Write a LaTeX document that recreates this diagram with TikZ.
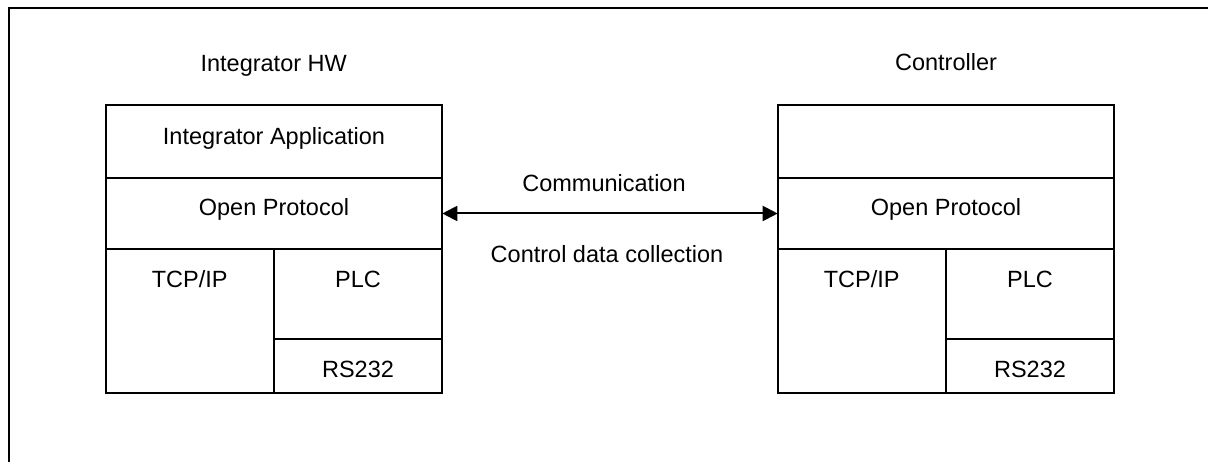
\documentclass[tikz,border=0pt]{standalone}
\usepackage{fontspec}
\setmainfont{Liberation Sans}
\usetikzlibrary{arrows.meta}
\tikzset{
  cell/.style={draw=black, line width=2pt, inner sep=0pt, outer sep=0pt},
  txt/.style={anchor=base, inner sep=0pt, font=\fontsize{23.5}{28}\selectfont},
  arr/.style={line width=2pt, {Triangle[length=15pt,width=15pt]}-{Triangle[length=15pt,width=15pt]}},
  frame/.style={draw=black, line width=2pt}
}
\begin{document}
\begin{tikzpicture}[x=1pt,y=-1pt]
\clip (0,0) rectangle (1208,462);
\fill[white] (0,0) rectangle (1208,462);
% outer frame (extends beyond the picture on the right and bottom)
\draw[frame] (8.5,8) rectangle (1240,500);

% left stack
\node[cell, minimum width=336.6pt, minimum height=72.7pt] (appL) at (274,141.35) {};
\node[cell, minimum width=336.6pt, minimum height=71.6pt] (opL) at (274,213.5) {};
\node[cell, minimum width=168pt, minimum height=143.4pt] (tcpL) at (189.7,321) {};
\node[cell, minimum width=168.6pt, minimum height=89.7pt] (plcL) at (358,294.15) {};
\node[cell, minimum width=168.6pt, minimum height=53.7pt] (rsL) at (358,365.85) {};

% right stack
\node[cell, minimum width=336.6pt, minimum height=72.7pt] (appR) at (946,141.35) {};
\node[cell, minimum width=336.6pt, minimum height=71.6pt] (opR) at (946,213.5) {};
\node[cell, minimum width=168pt, minimum height=143.4pt] (tcpR) at (861.7,321) {};
\node[cell, minimum width=168.6pt, minimum height=89.7pt] (plcR) at (1030,294.15) {};
\node[cell, minimum width=168.6pt, minimum height=53.7pt] (rsR) at (1030,365.85) {};

% titles
\node[txt] (hwT) at (273.7,71.7) {Integrator HW};
\node[txt] (ctT) at (946,71) {Controller};

% texts left
\node[txt] (appLt) at (274,144.3) {Integrator Application};
\node[txt] (opLt) at (274,216) {Open Protocol};
\node[txt] (tcpLt) at (189.7,287.7) {TCP/IP};
\node[txt] (plcLt) at (358,287.7) {PLC};
\node[txt] (rsLt) at (358,377.7) {RS232};

% texts right
\node[txt] (opRt) at (946,216) {Open Protocol};
\node[txt] (tcpRt) at (861.7,287.7) {TCP/IP};
\node[txt] (plcRt) at (1030,287.7) {PLC};
\node[txt] (rsRt) at (1030,377.7) {RS232};

% connector
\draw[arr] (opL.east) -- (opR.west);
\node[txt] (comm) at (604,191.7) {Communication};
\node[txt] (ctrl) at (607,262.7) {Control data collection};
\end{tikzpicture}
\end{document}
